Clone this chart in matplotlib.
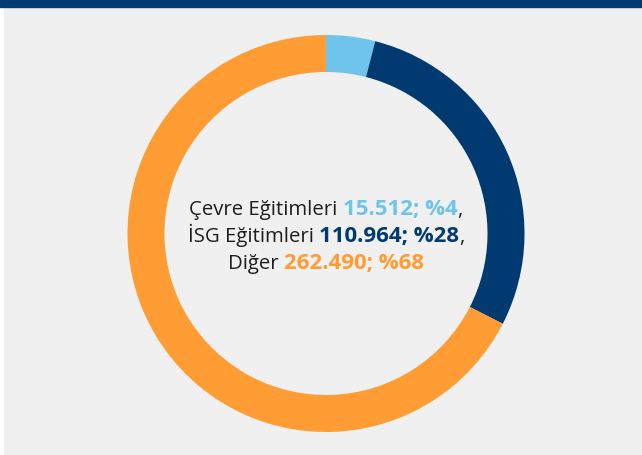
import matplotlib
matplotlib.use("Agg")
import matplotlib.pyplot as plt
from matplotlib.patches import Rectangle

categories = ["Çevre Eğitimleri", "İSG Eğitimleri", "Diğer"]
values = [15512, 110964, 262490]
value_labels = ["15.512; %4", "110.964; %28", "262.490; %68"]
colors = ["#6EC4EA", "#003A70", "#FF9C33"]

W, H, DPI = 642, 455, 100
fig = plt.figure(figsize=(W / DPI, H / DPI), dpi=DPI)
fig.patch.set_facecolor("white")

# background panel and header bar
fig.add_artist(Rectangle((4 / W, 0), 1, 1, transform=fig.transFigure, color="#F0F0F0", zorder=0))
fig.add_artist(Rectangle((0, 1 - 7 / H), 1, 7 / H, transform=fig.transFigure, color="#003A70", zorder=1))

cx, cy, r = 326, 233.5, 198.5
ax = fig.add_axes([(cx - r) / W, 1 - (cy + r) / H, 2 * r / W, 2 * r / H])
ax.pie(values, colors=colors, startangle=90, counterclock=False, radius=1,
       wedgeprops=dict(width=37 / r, linewidth=0))
ax.set_xlim(-1, 1)
ax.set_ylim(-1, 1)
ax.set_aspect("equal")
ax.axis("off")

renderer = fig.canvas.get_renderer()
baselines = [215, 242, 269]
for i, (cat, lab, col) in enumerate(zip(categories, value_labels, colors)):
    parts = [(cat + " ", "#1E1E1E", "normal", 14.7), (lab, col, "bold", 16)]
    if i < len(categories) - 1:
        parts.append((",", "#1E1E1E", "normal", 14.7))
    texts = []
    for s, c, w, fs in parts:
        t = fig.text(0, 0, s, fontsize=fs, color=c, fontweight=w, family="Open Sans",
                     ha="left", va="baseline")
        texts.append(t)
    widths = [t.get_window_extent(renderer).width for t in texts]
    total = sum(widths)
    x = cx - total / 2
    for t, w in zip(texts, widths):
        t.set_position((x / W, 1 - baselines[i] / H))
        x += w

fig.savefig("out.png", dpi=DPI, facecolor=fig.get_facecolor())
